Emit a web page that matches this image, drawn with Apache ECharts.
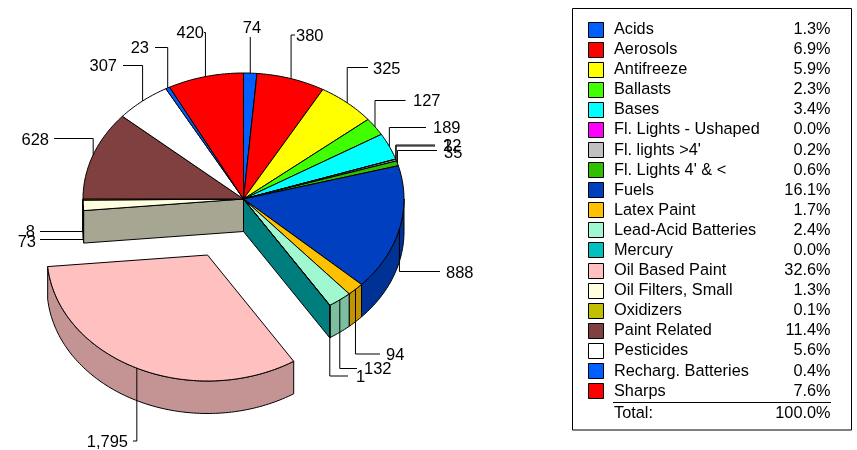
<!DOCTYPE html>
<html>
<head>
<meta charset="utf-8">
<title>Waste pie</title>
<script src="https://cdn.jsdelivr.net/npm/echarts@6/dist/echarts.min.js"></script>
<style>
  html, body { margin: 0; padding: 0; background: #fff; }
  #chart { width: 857px; height: 450px; }
</style>
</head>
<body>
<div id="chart"></div>
<script>
const categories = ['Acids', 'Aerosols', 'Antifreeze', 'Ballasts', 'Bases', 'Fl. Lights - Ushaped', "Fl. lights >4'", "Fl. Lights 4' & <", 'Fuels', 'Latex Paint', 'Lead-Acid Batteries', 'Mercury', 'Oil Based Paint', 'Oil Filters, Small', 'Oxidizers', 'Paint Related', 'Pesticides', 'Recharg. Batteries', 'Sharps'];
const amounts = [74, 380, 325, 127, 189, 2, 12, 35, 888, 94, 132, 1, 1795, 73, 8, 628, 307, 23, 420];
const amountLabels = ['74', '380', '325', '127', '189', '2', '12', '35', '888', '94', '132', '1', '1,795', '73', '8', '628', '307', '23', '420'];
const percents = ['1.3%', '6.9%', '5.9%', '2.3%', '3.4%', '0.0%', '0.2%', '0.6%', '16.1%', '1.7%', '2.4%', '0.0%', '32.6%', '1.3%', '0.1%', '11.4%', '5.6%', '0.4%', '7.6%'];
const colors = ['#0060ff', '#ff0000', '#ffff00', '#40ff00', '#00ffff', '#ff00ff', '#c0c0c0', '#30c000', '#0040c0', '#ffc000', '#a0f8d0', '#00c0c0', '#ffc0c0', '#ffffe0', '#c0c000', '#804040', '#ffffff', '#0060ff', '#ff0000'];
const totalLabel = 'Total:';
const totalPercent = '100.0%';

// pie geometry
const cx = 243.5, cy = 199, rx = 160.5, ry = 126, depth = 32.5;
const explodedIndex = 12, explodeX = -36, explodeY = 56;

// leader line for each label: y of the elbow, x where the line stops, text x, text y, text align
const labelLayout = [
  [37, null, 252, 28, 'center'],
  [35, 295, 296, 36, 'left'],
  [67.5, 368, 373, 69, 'left'],
  [100.5, 405.5, 413, 101, 'left'],
  [127.5, 426, 433, 128, 'left'],
  [145, 435, 443, 146, 'left'],
  [146, 435, 443, 146, 'left'],
  [150.5, 437, 444, 153, 'left'],
  [271.5, 440, 446, 273, 'left'],
  [354, 380, 386, 355, 'left'],
  [368.5, 357, 364, 369, 'left'],
  [376, 348, 356, 377, 'left'],
  [441, 133, 128, 442, 'right'],
  [239.5, 40, 36, 242, 'right'],
  [231.5, 40, 35, 232, 'right'],
  [138.5, 54, 49, 140, 'right'],
  [65.5, 123, 117, 66, 'right'],
  [47.5, 155, 149, 48, 'right'],
  [32.5, 204, 204, 33, 'right']
];

const total = amounts.reduce((a, b) => a + b, 0);
const starts = [];
amounts.reduce((sum, v, i) => { starts[i] = sum; return sum + v; }, 0);

const FONT = '"Liberation Sans", Arial, sans-serif';

const toAngle = v => v / total * Math.PI * 2;
const rim = (a, ox, oy) => [ox + rx * Math.sin(a), oy - ry * Math.cos(a)];

// multiply a hex colour, used for the shaded sides
const shade = (hex, k) => {
  const n = parseInt(hex.slice(1), 16);
  const c = s => Math.round(((n >> s) & 255) * k);
  return `rgb(${c(16)},${c(8)},${c(0)})`;
};

const arcPoints = (a0, a1, ox, oy) => {
  const steps = Math.max(1, Math.ceil((a1 - a0) / 0.02));
  const pts = [];
  for (let s = 0; s <= steps; s++) pts.push(rim(a0 + (a1 - a0) * s / steps, ox, oy));
  return pts;
};

const renderSlice = (params, api) => {
  const i = params.dataIndex;
  const a0 = toAngle(starts[i]);
  const a1 = toAngle(starts[i] + api.value(0));
  const exploded = i === explodedIndex;
  const ox = cx + (exploded ? explodeX : 0);
  const oy = cy + (exploded ? explodeY : 0);
  const children = [];
  const line = { stroke: '#000', lineWidth: 1, lineJoin: 'round' };

  // outer side, only the front half of the rim shows
  const from = Math.max(a0, Math.PI / 2);
  const to = Math.min(a1, Math.PI * 1.5);
  if (to > from) {
    const top = arcPoints(from, to, ox, oy);
    const bottom = top.map(p => [p[0], p[1] + depth]).reverse();
    children.push({
      type: 'polygon', z2: 1,
      shape: { points: top.concat(bottom) },
      style: Object.assign({ fill: shade(colors[i], 0.77) }, line)
    });
  }

  // cut faces left open by the pulled out slice
  const cutFace = (a, color) => {
    const p = rim(a, cx, cy);
    children.push({
      type: 'polygon', z2: 2,
      shape: { points: [[cx, cy], p, [p[0], p[1] + depth], [cx, cy + depth]] },
      style: Object.assign({ fill: shade(color, 0.65) }, line)
    });
  };
  if (i === explodedIndex - 1) cutFace(a1, colors[i]);
  if (i === explodedIndex + 1) cutFace(a0, colors[i]);

  // top face
  children.push({
    type: 'polygon', z2: 3,
    shape: { points: [[ox, oy]].concat(arcPoints(a0, a1, ox, oy)) },
    style: Object.assign({ fill: colors[i] }, line)
  });

  // leader line and value
  const mid = (a0 + a1) / 2;
  const start = rim(mid, ox, oy);
  const lay = labelLayout[i];
  const linePts = [start, [start[0], lay[0]]];
  if (lay[1] !== null) linePts.push([lay[1], lay[0]]);
  children.push({
    type: 'polyline', z2: 4,
    shape: { points: linePts },
    style: { fill: null, stroke: '#000', lineWidth: 1 }
  });
  children.push({
    type: 'text', z2: 5,
    style: {
      x: lay[2], y: lay[3], text: amountLabels[i],
      textAlign: lay[4], textVerticalAlign: 'middle',
      fontSize: 16.5, fontFamily: FONT, fill: '#000'
    }
  });
  return { type: 'group', children: children };
};

// legend panel
const legendX = 588.5, legendTop = 21.5, rowStep = 20.09, swatch = 15;
const textX = 614, pctX = 830.5;
const legendGraphic = [{
  type: 'rect',
  shape: { x: 572.5, y: 8.5, width: 279, height: 421.5 },
  style: { fill: '#fff', stroke: '#000', lineWidth: 1 }
}];
const legendText = (x, y, text, align) => ({
  type: 'text',
  style: { x: x, y: y, text: text, textAlign: align, textVerticalAlign: 'middle', fontSize: 16.3, fontFamily: FONT, fill: '#000' }
});
categories.forEach((name, i) => {
  const y = legendTop + rowStep * i;
  legendGraphic.push({
    type: 'rect',
    shape: { x: legendX, y: Math.round(y) + 0.5, width: swatch, height: swatch },
    style: { fill: colors[i], stroke: '#000', lineWidth: 1 }
  });
  legendGraphic.push(legendText(textX, y + 8, name, 'left'));
  legendGraphic.push(legendText(pctX, y + 8, percents[i], 'right'));
});
legendGraphic.push({
  type: 'line',
  shape: { x1: 613, y1: 402.5, x2: 831, y2: 402.5 },
  style: { stroke: '#000', lineWidth: 1 }
});
legendGraphic.push(legendText(textX, 414, totalLabel, 'left'));
legendGraphic.push(legendText(pctX, 414, totalPercent, 'right'));

const chart = echarts.init(document.getElementById('chart'), null, { renderer: 'canvas' });
chart.setOption({
  animation: false,
  backgroundColor: '#fff',
  graphic: legendGraphic,
  series: [{
    type: 'custom',
    coordinateSystem: 'none',
    renderItem: renderSlice,
    silent: true,
    data: amounts.map(v => [v])
  }]
});
</script>
</body>
</html>
